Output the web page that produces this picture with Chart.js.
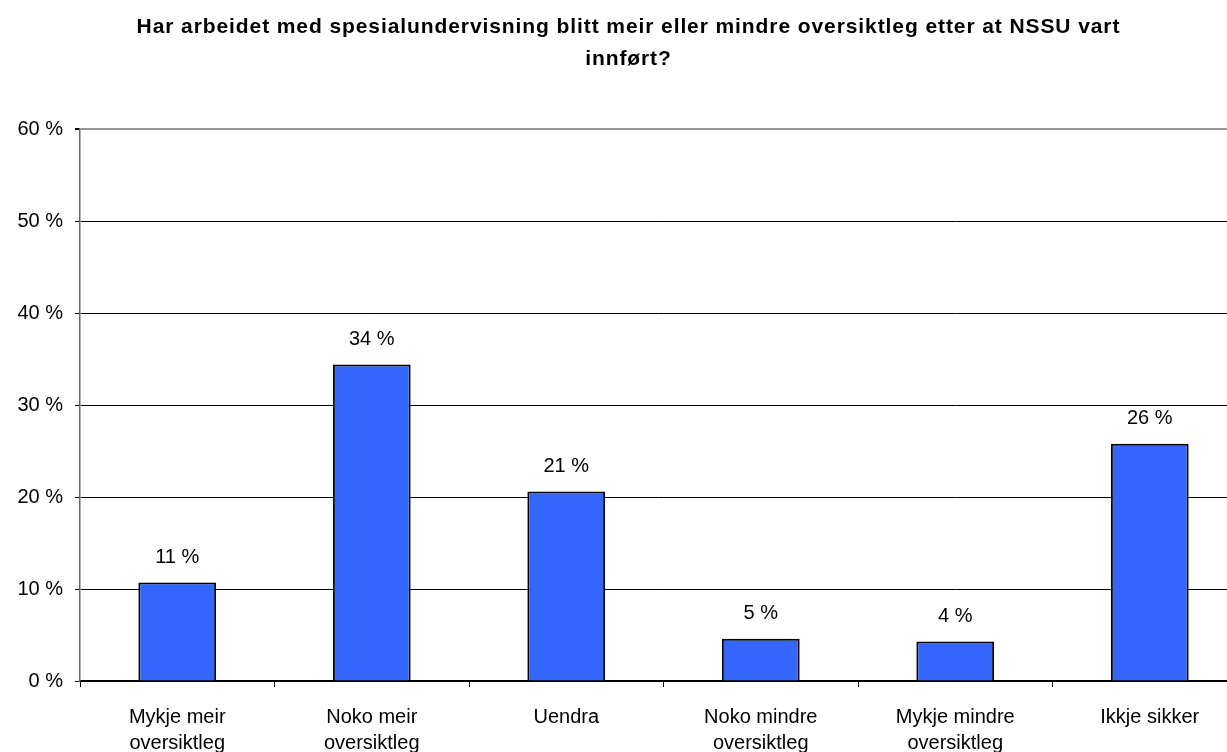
<!DOCTYPE html>
<html>
<head>
<meta charset="utf-8">
<script src="https://cdn.jsdelivr.net/npm/chart.js@4/dist/chart.umd.min.js"></script>
<style>
  html, body { margin: 0; padding: 0; background: #fff; overflow: hidden; }
  #wrap { width: 1260px; height: 752px; }
</style>
</head>
<body>
<div id="wrap"><canvas id="chart" width="1260" height="752"></canvas></div>
<script>
// data
const categories = [
  ['Mykje meir', 'oversiktleg'],
  ['Noko meir', 'oversiktleg'],
  'Uendra',
  ['Noko mindre', 'oversiktleg'],
  ['Mykje mindre', 'oversiktleg'],
  'Ikkje sikker'
];
const percentValues = [10.7, 34.4, 20.6, 4.6, 4.3, 25.8];
const titleLines = [
  'Har arbeidet med spesialundervisning blitt meir eller mindre oversiktleg etter at NSSU vart',
  'innført?'
];

const FONT = "'Liberation Sans', Arial, sans-serif";
const TITLE_FONT = "bold 21px 'Liberation Sans Narrow', 'Liberation Sans', Arial, sans-serif";

// title drawn by hand so the letter spacing can be set (the original is stretched)
const titlePlugin = {
  id: 'handTitle',
  afterDraw(chart) {
    const ctx = chart.ctx;
    ctx.save();
    ctx.font = TITLE_FONT;
    ctx.fillStyle = '#000';
    ctx.textAlign = 'center';
    ctx.textBaseline = 'middle';
    const w = ctx.measureText(titleLines[0]).width;
    const sp = Math.max(0, (983 - w) / (titleLines[0].length - 1));
    ctx.letterSpacing = sp.toFixed(2) + 'px';
    ctx.fillText(titleLines[0], 628 + sp / 2, 27);
    ctx.fillText(titleLines[1], 628 + sp / 2, 59);
    ctx.restore();
  }
};

// value labels above the bars
const valueLabels = {
  id: 'valueLabels',
  afterDatasetsDraw(chart) {
    const ctx = chart.ctx;
    const meta = chart.getDatasetMeta(0);
    ctx.save();
    ctx.font = '20px ' + FONT;
    ctx.fillStyle = '#000';
    ctx.textAlign = 'center';
    ctx.textBaseline = 'middle';
    meta.data.forEach(function(bar, i) {
      ctx.fillText(Math.round(percentValues[i]) + ' %', bar.x, bar.y - 25);
    });
    ctx.restore();
  }
};

const chart = new Chart(document.getElementById('chart').getContext('2d'), {
  type: 'bar',
  data: {
    labels: categories,
    datasets: [{
      data: percentValues,
      backgroundColor: '#3366FF',
      borderColor: '#000',
      borderWidth: 2,
      barPercentage: 0.8,
      categoryPercentage: 0.5
    }]
  },
  options: {
    responsive: false,
    animation: false,
    layout: { padding: { top: 129, right: 13, left: 0, bottom: 0 } },
    plugins: {
      legend: { display: false },
      title: { display: false },
      tooltip: { enabled: false }
    },
    scales: {
      x: {
        grid: {
          offset: true,
          drawOnChartArea: false,
          drawTicks: true,
          tickLength: 6,
          color: '#000'
        },
        border: { color: '#000', width: 1.5 },
        ticks: {
          color: '#000',
          font: { family: FONT, size: 20, lineHeight: 1.3 },
          padding: 17,
          maxRotation: 0,
          autoSkip: false
        },
        afterFit(scale) { scale.height = 71; }
      },
      y: {
        min: 0,
        max: 60,
        ticks: {
          stepSize: 10,
          color: '#000',
          font: { family: FONT, size: 20 },
          padding: 12,
          callback: function(v) { return v + ' %'; }
        },
        grid: {
          color: function(c) { return c.tick && c.tick.value === 60 ? '#999' : '#000'; },
          lineWidth: function(c) { return c.tick && c.tick.value === 60 ? 2 : 1; },
          tickLength: 5,
          tickColor: '#000'
        },
        border: { color: '#666', width: 1.5 },
        afterFit(scale) { scale.width = 80; }
      }
    }
  },
  plugins: [titlePlugin, valueLabels]
});
</script>
</body>
</html>
